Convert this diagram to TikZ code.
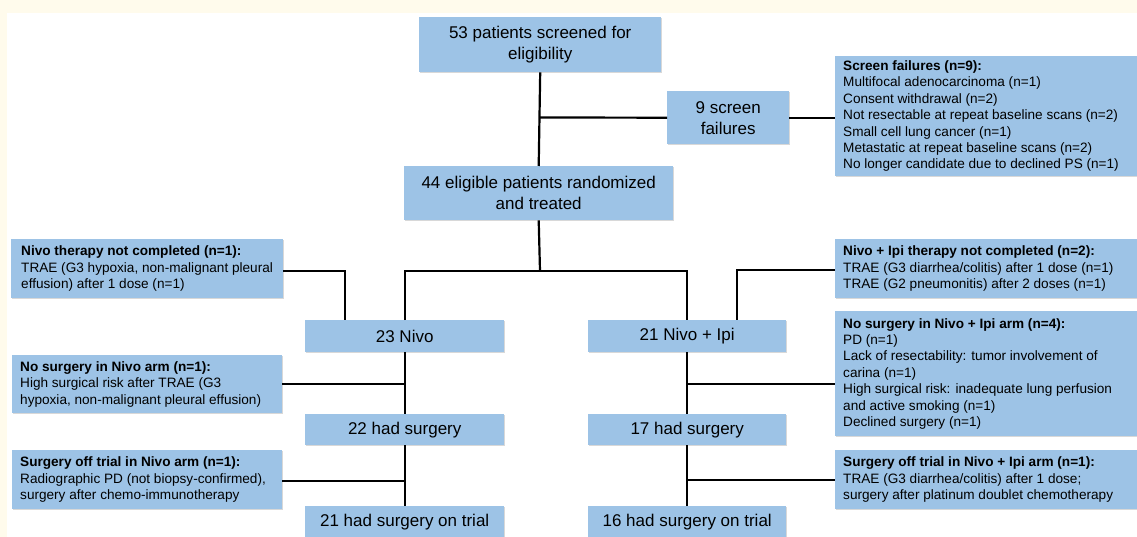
\documentclass[tikz,border=0pt]{standalone}
\usepackage{fontspec}
\setmainfont{Liberation Sans}
\usetikzlibrary{shadows}
\definecolor{boxblue}{RGB}{157,195,230}
\definecolor{cream}{RGB}{255,251,236}
\begin{document}
\begin{tikzpicture}[x=1pt,y=-1pt,
  base/.style={fill=boxblue,draw=none,anchor=north west,inner sep=0pt,
    drop shadow={shadow xshift=1.2pt,shadow yshift=-1.2pt,opacity=0.25,fill=black!60}},
  mainbox/.style={base,font=\fontsize{17}{21}\selectfont,align=center},
  notebox/.style={base,font=\fontsize{13.6}{16.4}\selectfont,align=flush left,inner xsep=8pt},
  conn/.style={line width=2.2pt,black}]
\useasboundingbox (0,0) rectangle (1137,537);
\fill[white] (0,0) rectangle (1137,537);
\fill[cream] (0,0) rectangle (1137,13);
\fill[cream] (0,0) rectangle (7,537);

% main boxes
\node[mainbox,minimum width=242pt,minimum height=55pt] (top) at (419,17) {53 patients screened for\\eligibility};
\node[mainbox,minimum width=122pt,minimum height=53pt] (sf9) at (667,91) {9 screen\\failures};
\node[mainbox,minimum width=269pt,minimum height=54pt] (elig) at (404,166) {44 eligible patients randomized\\and treated};
\node[mainbox,minimum width=199pt,minimum height=32pt] (nivo) at (305,320) {23 Nivo};
\node[mainbox,minimum width=198pt,minimum height=32pt] (ipi) at (588,320) {21 Nivo + Ipi};
\node[mainbox,minimum width=199pt,minimum height=31pt] (surgA) at (305,414) {22 had surgery};
\node[mainbox,minimum width=198pt,minimum height=31pt] (surgB) at (588,414) {17 had surgery};
\node[mainbox,minimum width=199pt,minimum height=31pt] (trialA) at (305,506) {21 had surgery on trial};
\node[mainbox,minimum width=198pt,minimum height=31pt] (trialB) at (588,506) {16 had surgery on trial};

% note boxes
\node[notebox,text width=286pt,minimum height=120pt] (sfnote) at (835,56) {\textbf{Screen failures (n=9):}\\Multifocal adenocarcinoma (n=1)\\Consent withdrawal (n=2)\\Not resectable at repeat baseline scans (n=2)\\Small cell lung cancer (n=1)\\Metastatic at repeat baseline scans (n=2)\\No longer candidate due to declined PS (n=1)};
\node[notebox,minimum height=59pt,inner xsep=10pt,text width=252pt] (ncA) at (11,239) {\textbf{Nivo therapy not completed (n=1):}\\TRAE (G3 hypoxia, non-malignant pleural\\effusion) after 1 dose (n=1)};
\node[notebox,text width=286pt,minimum height=59pt] (ncB) at (835,239) {\textbf{Nivo + Ipi therapy not completed (n=2):}\\TRAE (G3 diarrhea/colitis) after 1 dose (n=1)\\TRAE (G2 pneumonitis) after 2 doses (n=1)};
\node[notebox,text width=254pt,minimum height=58pt] (nsA) at (12,355) {\textbf{No surgery in Nivo arm (n=1):}\\High surgical risk after TRAE (G3\\hypoxia, non-malignant pleural effusion)};
\node[notebox,text width=286pt,minimum height=125pt] (nsB) at (835,311) {\textbf{No surgery in Nivo + Ipi arm (n=4):}\\PD (n=1)\\Lack of resectability: tumor involvement of\\carina (n=1)\\High surgical risk: inadequate lung perfusion\\and active smoking (n=1)\\Declined surgery (n=1)};
\node[notebox,text width=254pt,minimum height=59pt] (otA) at (12,450) {\textbf{Surgery off trial in Nivo arm (n=1):}\\Radiographic PD (not biopsy-confirmed),\\surgery after chemo-immunotherapy};
\node[notebox,text width=286pt,minimum height=59pt] (otB) at (835,450) {\textbf{Surgery off trial in Nivo + Ipi arm (n=1):}\\TRAE (G3 diarrhea/colitis) after 1 dose;\\surgery after platinum doublet chemotherapy};

% junction coordinates
\coordinate (jsf) at (540,117.5);
\coordinate (jsplit) at (540,271);
\coordinate (jA) at (345,271);
\coordinate (jB) at (737,270);
\coordinate (jnsA) at (404.5,384);
\coordinate (jnsB) at (687,384);
\coordinate (jotA) at (404.5,481);
\coordinate (jotB) at (687,480);

% connectors
\begin{scope}[conn]
\draw (top.south) -- (elig.north);
\draw (jsf) -- (sf9.west);
\draw (sf9.east) -- (sfnote.west |- sf9.east);
\draw (elig.south) -- (jsplit);
\draw (nivo.north) |- (jsplit) -| (ipi.north);
\draw (ncA.east |- jA) -| (jA |- nivo.north);
\draw (ncB.west |- jB) -| (jB |- ipi.north);
\draw (nivo.south) -- (surgA.north);
\draw (ipi.south) -- (surgB.north);
\draw (surgA.south) -- (trialA.north);
\draw (surgB.south) -- (trialB.north);
\draw (jnsA) -- (nsA.east |- jnsA);
\draw (jnsB) -- (nsB.west |- jnsB);
\draw (jotA) -- (otA.east |- jotA);
\draw (jotB) -- (otB.west |- jotB);
\end{scope}
\end{tikzpicture}
\end{document}
